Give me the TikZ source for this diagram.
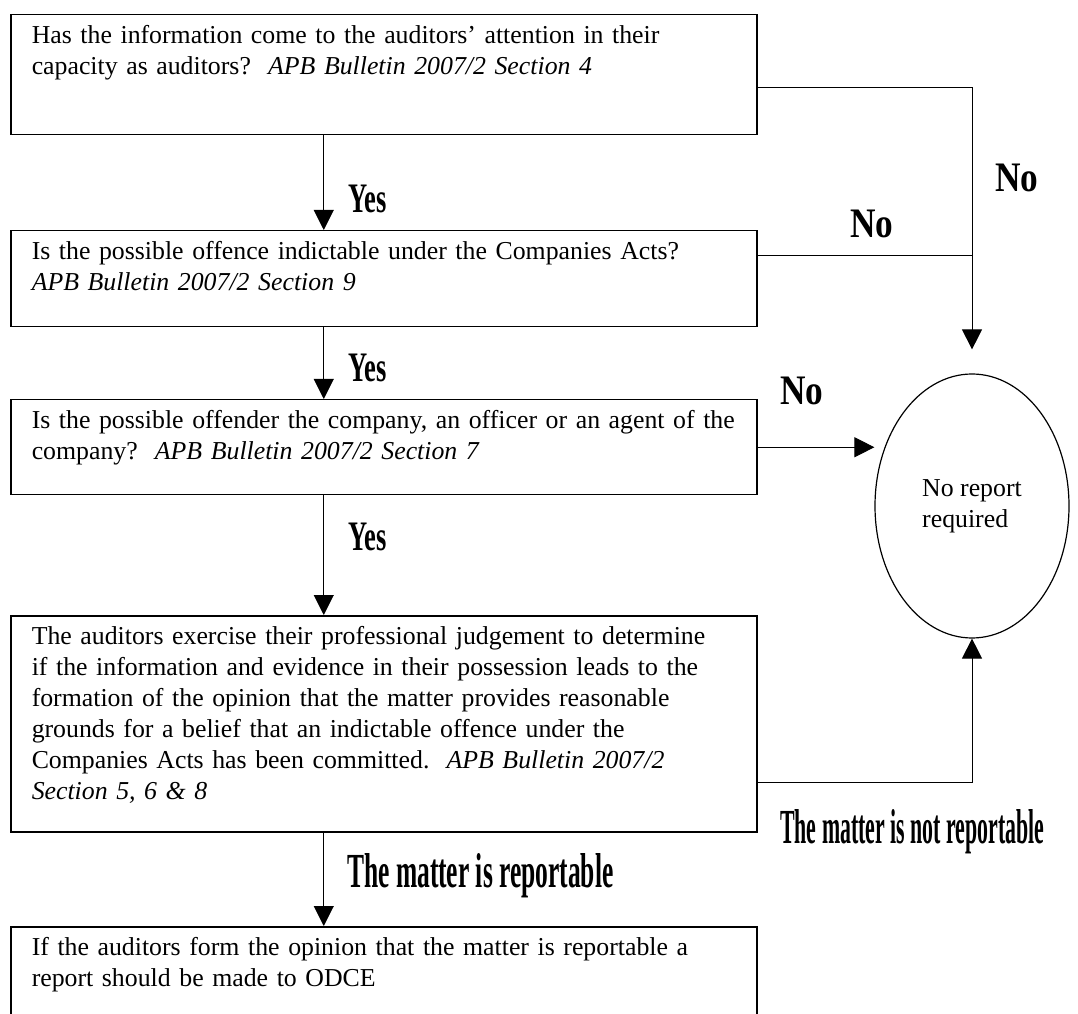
\documentclass[tikz,border=0pt]{standalone}
\usepackage{fontspec}
\setmainfont{Liberation Serif}
\usepackage{graphicx}
\usepackage{tikz}
\usetikzlibrary{arrows.meta,shapes.geometric}

\newcommand{\boxlines}[1]{\begin{tabular}[t]{@{}l@{}}#1\end{tabular}}
\newcommand{\squeeze}[2]{\scalebox{#1}[1]{#2}}

\tikzset{
  qbox/.style={draw, line width=1.5pt, anchor=north west, inner xsep=21pt,
    inner ysep=0pt, text width=704pt, align=left, text height=29pt,
    font=\fontsize{25.8}{31}\selectfont},
  flow/.style={line width=1pt, -{Triangle[length=20pt,width=20pt]}},
  lbl/.style={anchor=base west, inner sep=0pt, font=\bfseries\fontsize{42}{42}\selectfont},
  biglbl/.style={lbl, font=\bfseries\fontsize{49}{49}\selectfont}
}

\begin{document}
\begin{tikzpicture}[x=1pt,y=1pt]
  \useasboundingbox (0,0) rectangle (1078,1013);
  \clip (0,0) rectangle (1078,1013);
  \begin{scope}
   \node[qbox, text depth=91pt] (b1) at (10,999)
     {\boxlines{Has the information come to the auditors’ attention in their\\
      capacity as auditors?\ \ \textit{APB Bulletin 2007/2 Section 4}}};
   \node[qbox, text depth=67pt] (b2) at (10,783)
     {\boxlines{Is the possible offence indictable under the Companies Acts?\\
      \textit{APB Bulletin 2007/2 Section 9}}};
   \node[qbox, text depth=66pt] (b3) at (10,614)
     {\boxlines{Is the possible offender the company, an officer or an agent of the\\
      company?\ \ \textit{APB Bulletin 2007/2 Section 7}}};
   \node[qbox, text depth=187pt] (b4) at (10,398)
     {\boxlines{The auditors exercise their professional judgement to determine\\
      if the information and evidence in their possession leads to the\\
      formation of the opinion that the matter provides reasonable\\
      grounds for a belief that an indictable offence under the\\
      Companies Acts has been committed.\ \ \textit{APB Bulletin 2007/2}\\
      \textit{Section 5, 6 \& 8}}};
   \node[qbox, text depth=81pt] (b5) at (10,87)
     {\boxlines{If the auditors form the opinion that the matter is reportable a\\
      report should be made to ODCE}};
   \node[draw, ellipse, line width=1.2pt, minimum width=194pt, minimum height=264pt,
     align=left, font=\fontsize{25.8}{31}\selectfont] (ell) at (972,507) {No report\\required};

   \draw[flow] ([xshift=-60pt]b1.south) -- ([xshift=-60pt]b2.north);
   \draw[flow] ([xshift=-60pt]b2.south) -- ([xshift=-60pt]b3.north);
   \draw[flow] ([xshift=-60pt]b3.south) -- ([xshift=-60pt]b4.north);
   \draw[flow] ([xshift=-60pt]b4.south) -- ([xshift=-60pt]b5.north);
   \draw[flow] ([yshift=-13pt]b1.east) -| ([yshift=24pt]ell.north);
   \draw[line width=1pt] ([yshift=23pt]b2.east) -- ([yshift=23pt]b2.east -| ell.north);
   \draw[flow] (b3.east) -- (b3.east -| ell.west);
   \draw[flow] ([yshift=-59pt]b4.east) -| (ell.south);

   \node[lbl] (yes1) at (348,800) {\squeeze{0.63}{Yes}};
   \node[lbl] (yes2) at (348,631) {\squeeze{0.63}{Yes}};
   \node[lbl] (yes3) at (348,463) {\squeeze{0.63}{Yes}};
   \node[lbl] (no1) at (995,821) {\squeeze{0.84}{No}};
   \node[lbl] (no2) at (850,775) {\squeeze{0.84}{No}};
   \node[lbl] (no3) at (780,608) {\squeeze{0.84}{No}};
   \node[biglbl] (rep) at (347,126) {\squeeze{0.52}{The matter is reportable}};
   \node[biglbl] (norep) at (780,170) {\squeeze{0.446}{The matter is not reportable}};
  \end{scope}
\end{tikzpicture}
\end{document}
